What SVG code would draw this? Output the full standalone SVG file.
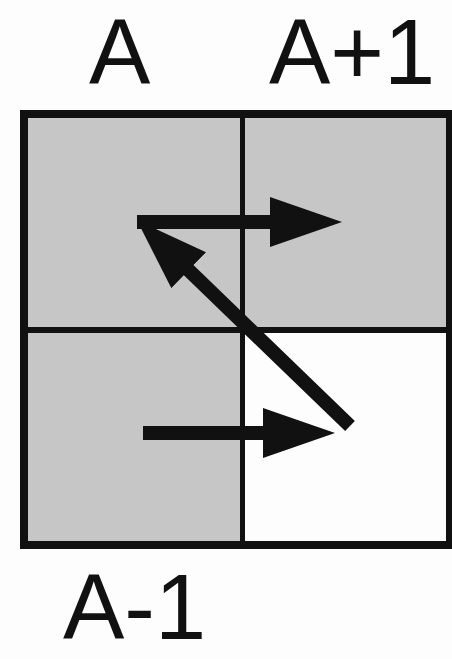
<svg xmlns="http://www.w3.org/2000/svg" width="452" height="659" viewBox="0 0 452 659">
<style>
.lbl{font-family:"Liberation Sans",Arial,sans-serif;font-size:92px;fill:#111}
.cell{fill:#c6c6c6}
.grid{fill:none;stroke:#111}
.arr{stroke:#111;stroke-width:14;fill:none}
</style>
<defs>
<marker id="ah" markerUnits="userSpaceOnUse" markerWidth="72" markerHeight="50" viewBox="0 0 72 50" refX="42" refY="25" orient="auto">
<path d="M0,0 L72,25 L0,50 z" fill="#111"/>
</marker>
</defs>
<rect width="452" height="659" fill="#fdfdfd"/>
<g id="cell-tl"><rect class="cell" x="24" y="114" width="218" height="216"/></g>
<g id="cell-tr"><rect class="cell" x="242" y="114" width="210" height="216"/></g>
<g id="cell-bl"><rect class="cell" x="24" y="330" width="218" height="215"/></g>
<g id="cell-br"><rect x="242" y="330" width="210" height="215" fill="#fdfdfd"/></g>
<g id="grid">
<rect class="grid" x="24" y="114" width="426" height="431" stroke-width="8"/>
<line class="grid" x1="242.5" y1="114" x2="242.5" y2="545" stroke-width="5"/>
<line class="grid" x1="24" y1="330" x2="452" y2="330" stroke-width="6"/>
</g>
<g id="label-A"><text class="lbl" x="89" y="84">A</text></g>
<g id="label-A1"><text class="lbl" x="269" y="84">A+1</text></g>
<g id="label-Am1"><text class="lbl" x="63" y="639">A-1</text></g>
<g id="connectors">
<line class="arr" x1="143" y1="433" x2="305" y2="433" marker-end="url(#ah)"/>
<line class="arr" x1="350" y1="426" x2="158.5" y2="241" marker-end="url(#ah)"/>
<line class="arr" x1="137" y1="222" x2="312" y2="222" marker-end="url(#ah)"/>
</g>
</svg>
